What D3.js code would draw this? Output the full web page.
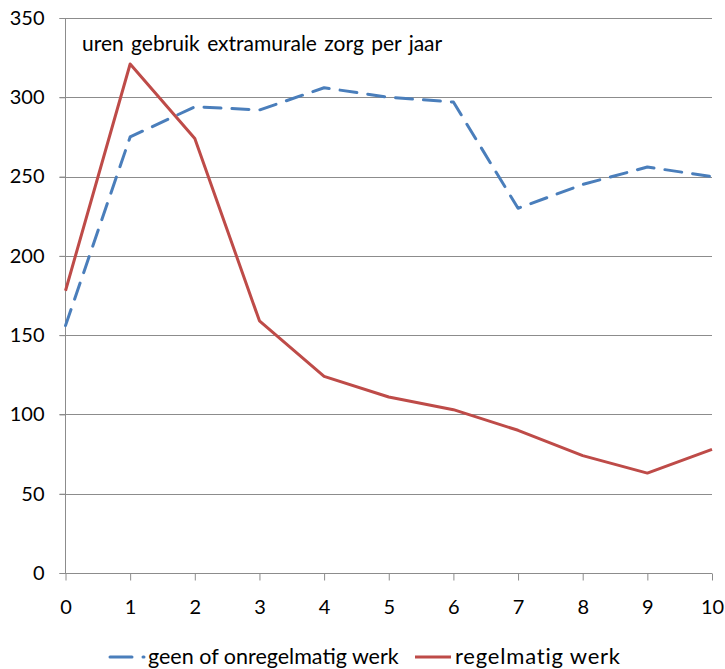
<!DOCTYPE html>
<html>
<head>
<meta charset="utf-8">
<script src="https://cdn.jsdelivr.net/npm/d3@7"></script>
<style>
  body { margin: 0; background: #fff; }
  svg text { font-family: Lato, "Open Sans", sans-serif; fill: #000; }
</style>
</head>
<body>
<div class="chart"></div>
<script>
var years = [0, 1, 2, 3, 4, 5, 6, 7, 8, 9, 10];
var geenWerk = [156, 275, 294, 292, 306, 300, 297, 230, 245, 256, 250];
var regelmatigWerk = [178, 321, 274, 159, 124, 111, 103, 90, 74, 63, 78];
var yTicks = [0, 50, 100, 150, 200, 250, 300, 350];
var seriesNames = ["geen of onregelmatig werk", "regelmatig werk"];
var chartTitle = "uren gebruik extramurale zorg per jaar";

var width = 725, height = 669;
var plotLeft = 65.5, plotRight = 712, plotTop = 18, plotBottom = 573;

var svg = d3.select(".chart").append("svg")
  .attr("width", width)
  .attr("height", height);

var x = d3.scaleLinear().domain([0, 10]).range([plotLeft, plotRight]);
var y = d3.scaleLinear().domain([0, 350]).range([plotBottom, plotTop]);

// horizontal grid lines
svg.append("g")
  .selectAll("line")
  .data(yTicks)
  .enter().append("line")
  .attr("x1", plotLeft - 6)
  .attr("x2", plotRight)
  .attr("y1", function(d) { return Math.round(y(d)) + 0.5; })
  .attr("y2", function(d) { return Math.round(y(d)) + 0.5; })
  .attr("stroke", "#8c8c8c")
  .attr("stroke-width", 1);

// y axis
var yAxis = svg.append("g")
  .attr("transform", "translate(" + plotLeft + ",0)")
  .call(d3.axisLeft(y).tickValues(yTicks).tickSize(6).tickPadding(15));
yAxis.selectAll("line, path").attr("stroke", "#8c8c8c");
yAxis.select(".domain").attr("d", "M0," + y(0) + "V" + y(350));
yAxis.selectAll("text").attr("font-size", 20).attr("font-family", "Lato, sans-serif");

// x axis
var xAxis = svg.append("g")
  .attr("transform", "translate(0," + (Math.round(plotBottom) + 0.5) + ")")
  .call(d3.axisBottom(x).tickValues(years).tickSize(7).tickPadding(19).tickFormat(d3.format("d")));
xAxis.selectAll("line, path").attr("stroke", "#8c8c8c");
xAxis.select(".domain").attr("d", "M" + plotLeft + ",0H" + plotRight);
xAxis.selectAll("text").attr("font-size", 20).attr("font-family", "Lato, sans-serif");

var line = d3.line()
  .x(function(d, i) { return x(years[i]); })
  .y(function(d) { return y(d); });

svg.append("path")
  .datum(geenWerk)
  .attr("d", line)
  .attr("fill", "none")
  .attr("stroke", "#4a7ebb")
  .attr("stroke-width", 3)
  .attr("stroke-dasharray", "17,11")
  .attr("stroke-linecap", "round")
  .attr("stroke-linejoin", "round");

svg.append("path")
  .datum(regelmatigWerk)
  .attr("d", line)
  .attr("fill", "none")
  .attr("stroke", "#be4b48")
  .attr("stroke-width", 3)
  .attr("stroke-linejoin", "round");

// title inside plot
svg.append("text")
  .attr("x", 82)
  .attr("y", 51)
  .attr("font-size", 21)
  .attr("word-spacing", 2)
  .text(chartTitle);

// legend
var legend = svg.append("g");
legend.append("line")
  .attr("x1", 110).attr("x2", 132)
  .attr("y1", 657).attr("y2", 657)
  .attr("stroke", "#4a7ebb").attr("stroke-width", 3)
  .attr("stroke-linecap", "round");
legend.append("line")
  .attr("x1", 143).attr("x2", 144)
  .attr("y1", 657).attr("y2", 657)
  .attr("stroke", "#4a7ebb").attr("stroke-width", 3)
  .attr("stroke-linecap", "round");
legend.append("text")
  .attr("x", 148).attr("y", 664)
  .attr("font-size", 21.5)
  .text(seriesNames[0]);
legend.append("line")
  .attr("x1", 415).attr("x2", 451)
  .attr("y1", 657).attr("y2", 657)
  .attr("stroke", "#be4b48").attr("stroke-width", 3);
legend.append("text")
  .attr("x", 455).attr("y", 664)
  .attr("font-size", 22)
  .attr("letter-spacing", 0.8)
  .text(seriesNames[1]);
</script>
</body>
</html>
